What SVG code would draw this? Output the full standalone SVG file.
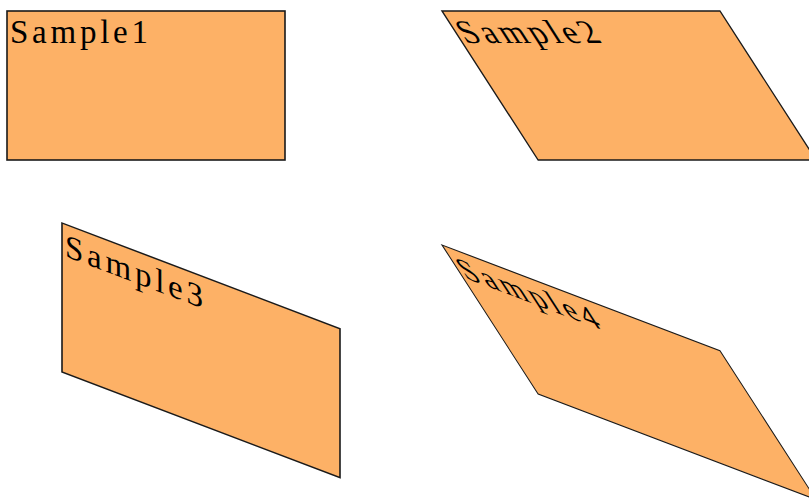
<svg xmlns="http://www.w3.org/2000/svg" width="809" height="499" viewBox="0 0 809 499">
<style>
.box{fill:#fdb166;stroke:#1a1a1a;stroke-width:1.6}
.lbl{font-family:"Liberation Serif","Times New Roman",serif;font-size:33px;fill:#000}
</style>
<rect width="809" height="499" fill="#fff"/>
<defs>
<g id="shape">
<rect class="box" x="0" y="0" width="278" height="149"/>
</g>
</defs>
<g id="sample1" transform="translate(7,11)">
<use href="#shape"/>
<text class="lbl" x="3" y="32" textLength="138" lengthAdjust="spacing">Sample1</text>
</g>
<g id="sample2" transform="matrix(1,0,0.645,1,442,11)">
<use href="#shape"/>
<text class="lbl" x="3" y="32" textLength="138" lengthAdjust="spacing">Sample2</text>
</g>
<g id="sample3" transform="matrix(1,0.38,0,1,62,223)">
<use href="#shape"/>
<text class="lbl" x="3" y="32" textLength="138" lengthAdjust="spacing">Sample3</text>
</g>
<g id="sample4" transform="matrix(1,0.38,0.645,1,442,245)">
<use href="#shape"/>
<text class="lbl" x="3" y="32" textLength="138" lengthAdjust="spacing">Sample4</text>
</g>
<g id="connectors"/>
</svg>
